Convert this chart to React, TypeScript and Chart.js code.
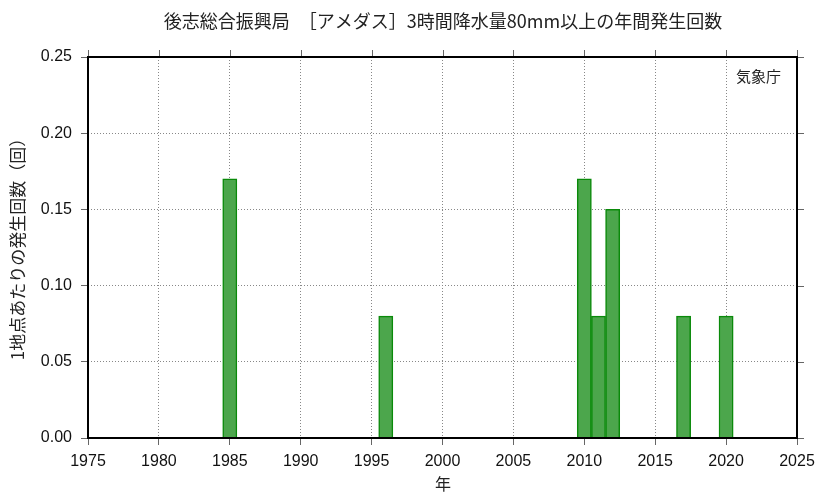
import React, { useEffect, useRef } from "react";
import { Chart, registerables } from "chart.js";

Chart.register(...registerables);

const years = [1985, 1996, 2010, 2011, 2012, 2017, 2020];
const counts = [0.17, 0.08, 0.17, 0.08, 0.15, 0.08, 0.08];
const titleText = "後志総合振興局　［アメダス］3時間降水量80mm以上の年間発生回数";
const yTitle = "1地点あたりの発生回数（回）";
const xTitle = "年";
const sourceText = "気象庁";

const CJK = '"Noto Sans CJK JP", sans-serif';
const LAT = '"Liberation Sans", Arial, sans-serif';

const framePlugin = {
  id: "frame",
  afterDraw(chart: any) {
    const { ctx, chartArea: a, scales } = chart;
    ctx.save();
    ctx.strokeStyle = "#666";
    ctx.lineWidth = 1;
    scales.x.ticks.forEach((t: any) => {
      const x = Math.round(scales.x.getPixelForValue(t.value)) + 0.5;
      ctx.beginPath();
      ctx.moveTo(x, a.top - 7);
      ctx.lineTo(x, a.top);
      ctx.stroke();
    });
    scales.y.ticks.forEach((t: any) => {
      const y = Math.round(scales.y.getPixelForValue(t.value)) + 0.5;
      ctx.beginPath();
      ctx.moveTo(a.right, y);
      ctx.lineTo(a.right + 7, y);
      ctx.stroke();
    });
    ctx.strokeStyle = "#000";
    ctx.lineWidth = 2;
    ctx.strokeRect(a.left, a.top, a.right - a.left, a.bottom - a.top);
    ctx.fillStyle = "#222";
    ctx.textAlign = "center";
    ctx.textBaseline = "middle";
    ctx.font = `18px ${CJK}`;
    ctx.fillText(titleText, 443, 21);
    ctx.font = `16px ${CJK}`;
    ctx.fillText(xTitle, 443, 484);
    ctx.font = `15px ${CJK}`;
    ctx.textAlign = "right";
    ctx.fillText(sourceText, 781, 76);
    ctx.save();
    ctx.translate(18, 245);
    ctx.rotate(-Math.PI / 2);
    ctx.textAlign = "center";
    ctx.font = `17px ${CJK}`;
    ctx.fillText(yTitle, 0, 0);
    ctx.restore();
    ctx.restore();
  },
};

export default function App() {
  const ref = useRef<HTMLCanvasElement>(null);
  useEffect(() => {
    document.body.style.margin = "0";
    const chart = new Chart(ref.current!, {
      type: "bar",
      data: {
        datasets: [
          {
            data: years.map((y, i) => ({ x: y, y: counts[i] })),
            backgroundColor: "rgba(76,166,76,1)",
            borderColor: "#0a8a0a",
            borderWidth: 1.5,
            barPercentage: 1,
            categoryPercentage: 1,
          },
        ],
      },
      options: {
        animation: false,
        responsive: false,
        layout: { padding: { top: 57, right: 36, left: 0, bottom: 0 } },
        plugins: { legend: { display: false }, title: { display: false }, tooltip: { enabled: false } },
        scales: {
          x: {
            type: "linear",
            min: 1975,
            max: 2025,
            offset: false,
            afterFit: (s: any) => { s.height = 60; },
            ticks: { stepSize: 5, color: "#111", font: { family: LAT, size: 16 }, padding: 7, maxRotation: 0, autoSkip: false, callback: (v: any) => String(v) },
            grid: { color: "#888", lineWidth: 1, tickLength: 7, tickColor: "#666", offset: false },
            border: { display: false, dash: [1, 2] },
          },
          y: {
            min: 0,
            max: 0.25,
            afterFit: (s: any) => { s.width = 88; },
            ticks: { stepSize: 0.05, color: "#111", font: { family: LAT, size: 16 }, padding: 9, callback: (v: any) => Number(v).toFixed(2) },
            grid: { color: "#888", lineWidth: 1, tickLength: 7, tickColor: "#666" },
            border: { display: false, dash: [1, 2] },
          },
        },
      },
      plugins: [framePlugin],
    });
    return () => chart.destroy();
  }, []);
  return (
    <div style={{ position: "fixed", left: 0, top: 0, width: 833, height: 498, background: "#fff" }}>
      <canvas ref={ref} width={833} height={498} />
    </div>
  );
}
